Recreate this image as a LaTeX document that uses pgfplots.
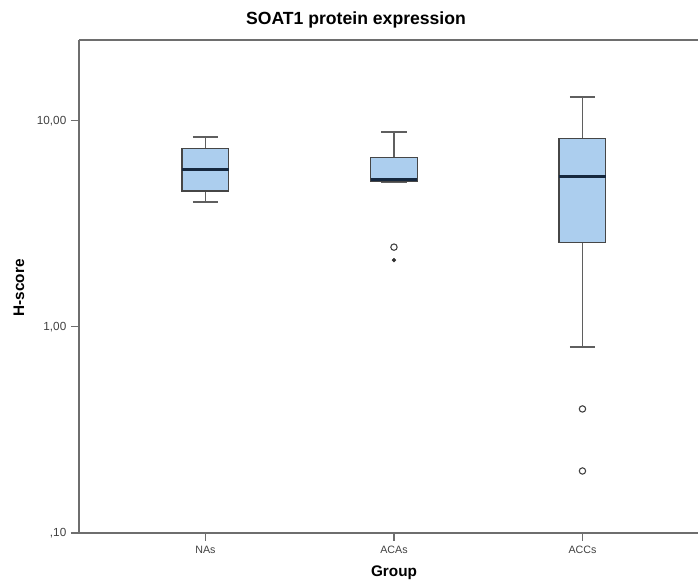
\documentclass[border=0pt]{standalone}
\usepackage{fontspec}
\setmainfont{Liberation Sans}
\usepackage{pgfplots}
\pgfplotsset{compat=1.18}
\usepgfplotslibrary{statistics}
\definecolor{boxfill}{RGB}{172,206,238}
\definecolor{boxedge}{RGB}{70,70,70}
\definecolor{whisk}{RGB}{95,95,95}
\definecolor{mednavy}{RGB}{22,40,62}
\definecolor{axisgray}{RGB}{110,110,110}
\pgfplotsset{
  soatbox/.style={
    boxplot/draw direction=y,
    boxplot/box extend=0.249,
    boxplot/whisker extend=0.133,
    boxplot/every box/.style={draw=boxedge, fill=boxfill, line width=0.8pt},
    boxplot/every whisker/.style={draw=whisk, line width=1.4pt},
    boxplot/every median/.style={draw=mednavy, line width=2.2pt},
  }
}
\begin{document}
\begin{tikzpicture}
\begin{axis}[
  at={(0,0)}, anchor=south west,
  scale only axis, width=464.25pt, height=369.75pt,
  ymode=log, ymin=0.1, ymax=24.7,
  xmin=0.329, xmax=3.613,
  axis lines*=left,
  axis line style={draw=axisgray, line width=1pt},
  tick align=outside,
  major tick length=6pt,
  tick style={draw=axisgray, line width=0.8pt},
  xtick={1,2,3}, xticklabels={NAs,ACAs,ACCs},
  ytick={0.1,1,10}, yticklabels={{,10},{1,00},{10,00}},
  yminorticks=false,
  x tick label style={font=\fontsize{8}{9}\selectfont, text=black!75},
  y tick label style={font=\fontsize{8.8}{10}\selectfont, text=black!75},
  clip=false,
]
\addplot[draw=boxedge, soatbox, boxplot prepared={draw position=1,
  lower whisker=4.04, lower quartile=4.57, median=5.78,
  upper quartile=7.31, upper whisker=8.36}] coordinates {};
\addplot[draw=boxedge, soatbox, boxplot prepared={draw position=2,
  lower whisker=5.06, lower quartile=5.06, median=5.17,
  upper quartile=6.61, upper whisker=8.85}] coordinates {};
\addplot[draw=boxedge, soatbox, boxplot prepared={draw position=3,
  lower whisker=0.80, lower quartile=2.56, median=5.35,
  upper quartile=8.18, upper whisker=13.1}] coordinates {};
% outliers
\addplot[only marks, mark=o, mark size=2.4pt, mark options={draw=black!75, line width=0.8pt}]
  coordinates {(2,2.44) (3,0.40) (3,0.20)};
% extreme
\addplot[only marks, mark=*, mark size=1.4pt, mark options={fill=black!80, draw=black!80}]
  coordinates {(2,2.11)};
\end{axis}
\draw[axisgray, line width=1pt] (0,369.75pt) -- (464.25pt,369.75pt);
\node[font=\bfseries\fontsize{13.2}{15}\selectfont] at (207.75pt,384.75pt) {SOAT1 protein expression};
\node[font=\bfseries\fontsize{11.5}{14}\selectfont] at (236.25pt,-30pt) {Group};
\node[font=\bfseries\fontsize{11.5}{13}\selectfont, rotate=90] at (-45pt,183.75pt) {H-score};
\pgfresetboundingbox
\path[use as bounding box] (-59.25pt,-38.25pt) rectangle (464.25pt,399.75pt);
\end{tikzpicture}
\end{document}
